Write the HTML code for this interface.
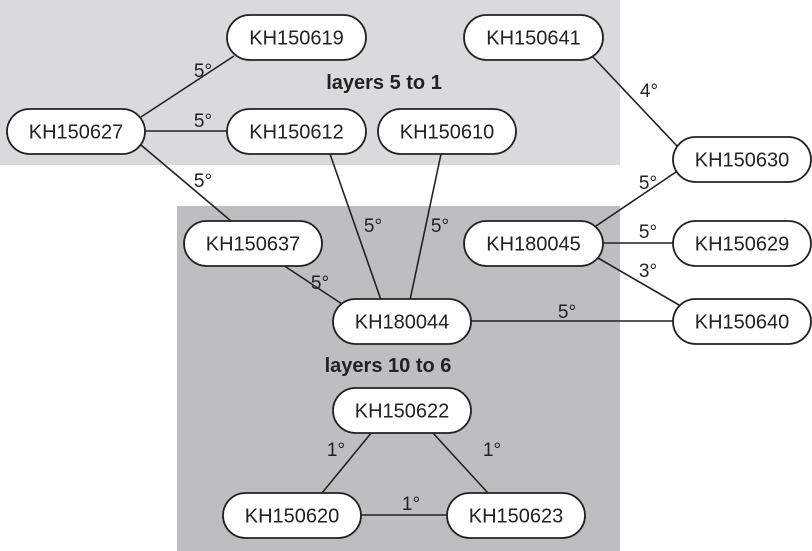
<!DOCTYPE html>
<html><head><style>body{margin:0;background:#fff}svg{display:block}</style></head><body>
<svg width="812" height="551" viewBox="0 0 812 551" xmlns="http://www.w3.org/2000/svg" font-family="Liberation Sans, Arial, sans-serif">
<rect x="0" y="0" width="620" height="165" fill="#d9dadc"/>
<rect x="177" y="206" width="443" height="345" fill="#bdbec0"/>
<g stroke="#222" stroke-width="1.6" fill="none">
<line x1="141" y1="117" x2="234" y2="56"/>
<line x1="145" y1="131" x2="227" y2="131"/>
<line x1="141" y1="145" x2="231" y2="221"/>
<line x1="330" y1="154" x2="381" y2="300"/>
<line x1="441" y1="154" x2="410" y2="300"/>
<line x1="283" y1="265" x2="345" y2="306"/>
<line x1="593" y1="57" x2="677" y2="146"/>
<line x1="596" y1="226" x2="676" y2="172"/>
<line x1="603" y1="243" x2="673" y2="243"/>
<line x1="598" y1="258" x2="679" y2="305"/>
<line x1="471" y1="321" x2="673" y2="321"/>
<line x1="372" y1="432" x2="322" y2="493"/>
<line x1="432" y1="432" x2="488" y2="493"/>
<line x1="361" y1="515" x2="447" y2="515"/>
</g>
<g stroke="#222" stroke-width="1.8" fill="#fff">
<rect x="227" y="15" width="139" height="45" rx="22.5"/>
<rect x="7" y="109" width="138" height="45" rx="22.5"/>
<rect x="227" y="109" width="139" height="45" rx="22.5"/>
<rect x="378" y="109" width="138" height="45" rx="22.5"/>
<rect x="464" y="15" width="139" height="45" rx="22.5"/>
<rect x="673" y="137" width="138" height="45" rx="22.5"/>
<rect x="464" y="221" width="139" height="45" rx="22.5"/>
<rect x="673" y="221" width="138" height="45" rx="22.5"/>
<rect x="673" y="299" width="138" height="45" rx="22.5"/>
<rect x="184" y="221" width="138" height="45" rx="22.5"/>
<rect x="333" y="299" width="138" height="45" rx="22.5"/>
<rect x="333" y="388" width="138" height="45" rx="22.5"/>
<rect x="223" y="493" width="138" height="45" rx="22.5"/>
<rect x="447" y="493" width="138" height="45" rx="22.5"/>
</g>
<g font-size="20" fill="#222" text-anchor="middle">
<text x="296.5" y="44.5">KH150619</text>
<text x="76" y="138.5">KH150627</text>
<text x="296.5" y="138.5">KH150612</text>
<text x="447" y="138.5">KH150610</text>
<text x="533.5" y="44.5">KH150641</text>
<text x="742" y="166.5">KH150630</text>
<text x="533.5" y="250.5">KH180045</text>
<text x="742" y="250.5">KH150629</text>
<text x="742" y="328.5">KH150640</text>
<text x="253" y="250.5">KH150637</text>
<text x="402" y="328.5">KH180044</text>
<text x="402" y="417.5">KH150622</text>
<text x="292" y="522.5">KH150620</text>
<text x="516" y="522.5">KH150623</text>
<g font-size="19">
<text x="203" y="77">5°</text>
<text x="203" y="127">5°</text>
<text x="203" y="187">5°</text>
<text x="373" y="232">5°</text>
<text x="440" y="232">5°</text>
<text x="320" y="289">5°</text>
<text x="649" y="97">4°</text>
<text x="648" y="189">5°</text>
<text x="648" y="238">5°</text>
<text x="648" y="277">3°</text>
<text x="567" y="318">5°</text>
<text x="336" y="456">1°</text>
<text x="492" y="456">1°</text>
<text x="411" y="510">1°</text>
</g>
<text x="384" y="89" font-weight="bold">layers 5 to 1</text>
<text x="388" y="372" font-weight="bold">layers 10 to 6</text>
</g>
</svg>
</body></html>
